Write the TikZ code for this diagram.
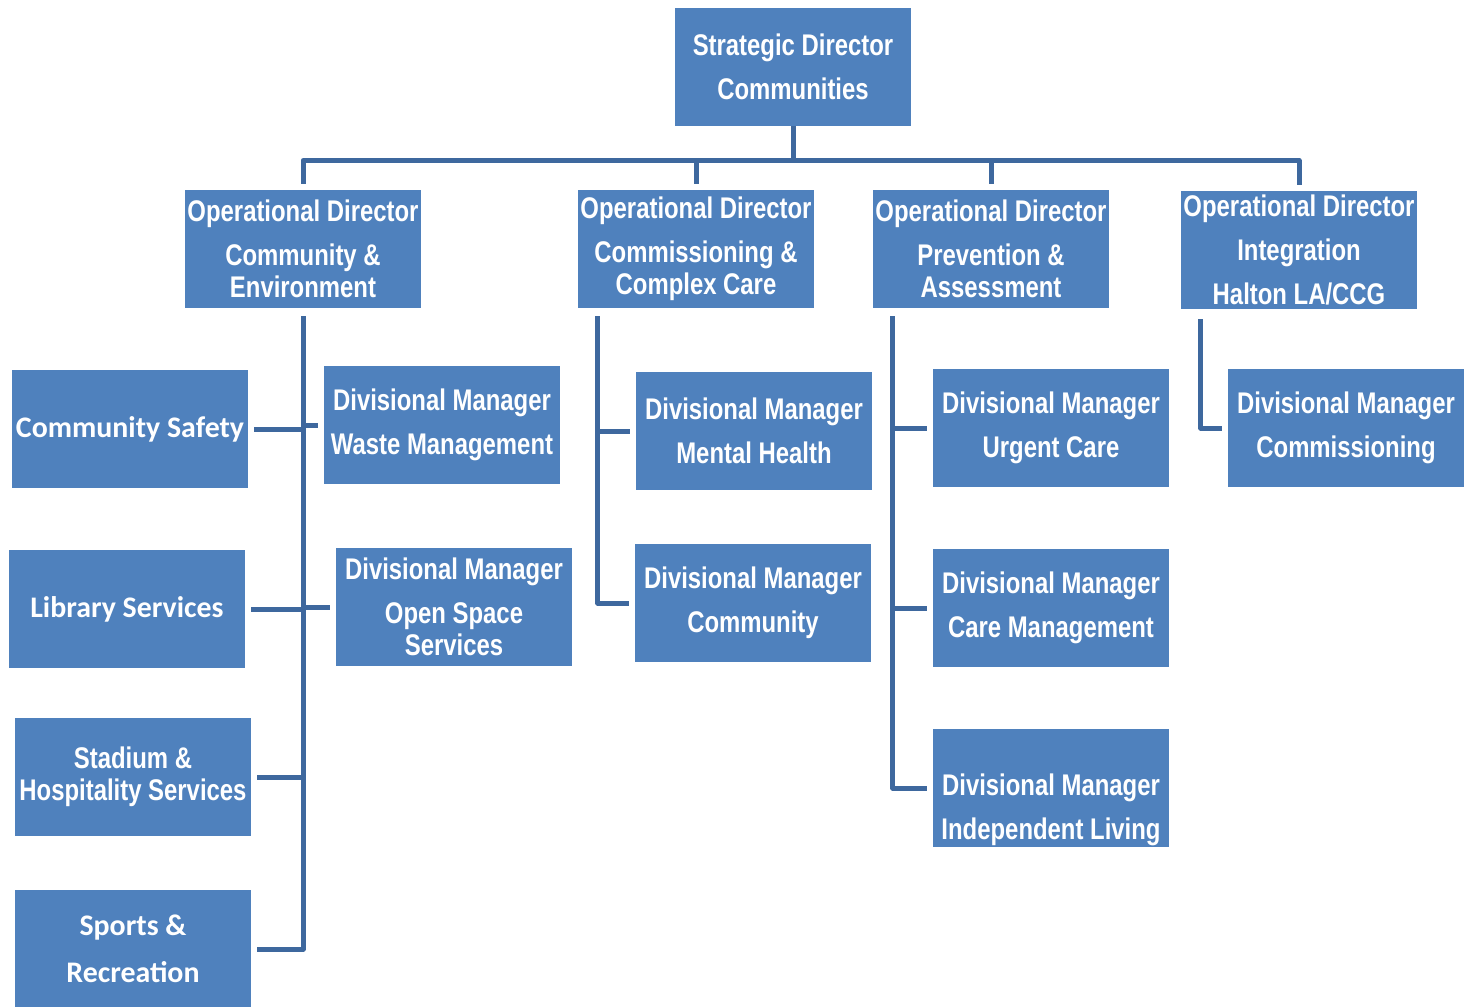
\documentclass[tikz,border=0pt]{standalone}
\usepackage{fontspec}
\newfontfamily\narrowsans{Liberation Sans}[FakeStretch=0.8]
\newfontfamily\boxsans{Carlito}

\definecolor{boxblue}{RGB}{79,129,189}
\definecolor{linkblue}{RGB}{62,104,158}

\tikzset{
  unit/.style={fill=boxblue, text=white, minimum width=4.72cm, minimum height=2.36cm,
    inner sep=0pt, align=center, font=\narrowsans\bfseries\fontsize{17}{25}\selectfont},
  service/.style={unit, font=\boxsans\bfseries\fontsize{17}{27}\selectfont},
  link/.style={draw=linkblue, line width=0.1cm, line join=round},
}

\begin{document}
\begin{tikzpicture}[x=0.02cm,y=-0.02cm]
\useasboundingbox (0,0) rectangle (1467,1007);

% directors
\node[unit] (top) at (793,67) {Strategic Director\\Communities};
\node[unit] (od1) at (303,249) {Operational Director\\Community \&\\[-0.24cm]Environment};
\node[unit] (od2) at (696,249) {Operational Director\\Commissioning \&\\[-0.24cm]Complex Care};
\node[unit] (od3) at (991,249) {Operational Director\\Prevention \&\\[-0.24cm]Assessment};
\node[unit] (od4) at (1299,250) {Operational Director\\Integration\\Halton LA/CCG};

% community & environment
\node[service] (cs) at (130,429) {Community Safety};
\node[service] (ls) at (127,609) {Library Services};
\node[unit] (sh) at (133,777) {Stadium \&\\[-0.24cm]Hospitality Services};
\node[service] (sr) at (133,949) {Sports \&\\Recreation};
\node[unit] (wm) at (442,425) {Divisional Manager\\Waste Management};
\node[unit] (os) at (454,607) {Divisional Manager\\Open Space\\[-0.24cm]Services};

% commissioning & complex care
\node[unit] (mh) at (754,431) {Divisional Manager\\Mental Health};
\node[unit] (cm) at (753,603) {Divisional Manager\\Community};

% prevention & assessment
\node[unit] (uc) at (1051,428) {Divisional Manager\\Urgent Care};
\node[unit] (care) at (1051,608) {Divisional Manager\\Care Management};
\node[unit] (il) at (1051,788) {\rule{0pt}{1.3cm}Divisional Manager\\Independent Living};

% integration
\node[unit] (comm) at (1346,428) {Divisional Manager\\Commissioning};

% top bus
\draw[link] (top.south) -- ++(0,34) coordinate (bus);
\foreach \d in {od1,od2,od3,od4}
  \draw[link,shorten >=0.12cm] (bus) -| (\d.north);

% spines
\coordinate (s1) at ([yshift=-0.16cm]od1.south);
\coordinate (s2) at ([shift={(0.4cm,-0.16cm)}]od2.south west);
\coordinate (s3) at ([shift={(0.4cm,-0.16cm)}]od3.south west);
\coordinate (s4) at ([shift={(0.4cm,-0.2cm)}]od4.south west);

\draw[link,shorten >=0.12cm] (s1) |- (sr.east);
\foreach \c in {cs,ls,sh}
  \draw[link,shorten >=0.12cm] (s1 |- \c.east) -- (\c.east);
\foreach \c in {wm,os}
  \draw[link,shorten >=0.12cm] (s1 |- \c.west) -- (\c.west);

\draw[link,shorten >=0.12cm] (s2) |- (cm.west);
\draw[link,shorten >=0.12cm] (s2 |- mh.west) -- (mh.west);

\draw[link,shorten >=0.12cm] (s3) |- (il.west);
\foreach \c in {uc,care}
  \draw[link,shorten >=0.12cm] (s3 |- \c.west) -- (\c.west);

\draw[link,shorten >=0.12cm] (s4) |- (comm.west);
\end{tikzpicture}
\end{document}
